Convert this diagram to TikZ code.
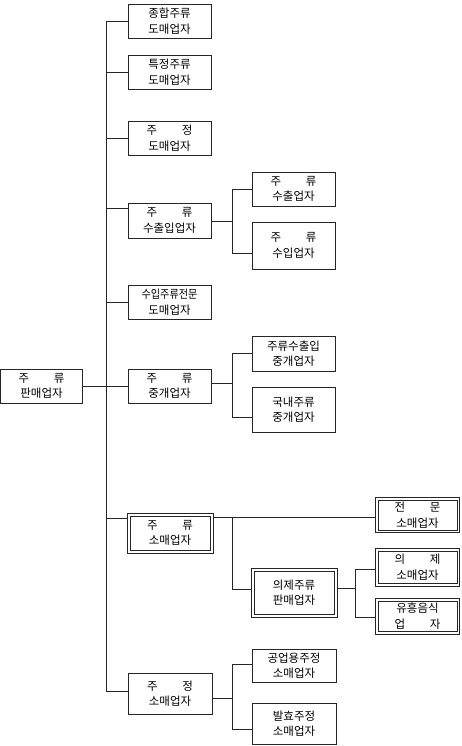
\documentclass[tikz,border=0pt]{standalone}
\usepackage{fontspec}
\setmainfont{Noto Sans CJK KR}
\usepackage{graphicx}
\usetikzlibrary{backgrounds}
\newcommand{\sptwo}[2]{\makebox[4em][s]{#1\hfill#2}}
\newcommand{\innerframe}[1]{\draw[black!85, line width=0.6pt] ([shift={(3.2,3.2)}]#1.north west) rectangle ([shift={(-3.2,-3.2)}]#1.south east);}
\begin{document}
\begin{tikzpicture}[x=1pt,y=-1pt,
  box/.style={draw=black!85, line width=0.7pt, fill=white, inner sep=0pt, align=center,
    font=\fontsize{11.5}{15.5}\selectfont},
  dbl/.style={box, line width=0.7pt},
  thickbox/.style={box, line width=1.8pt},
  conn/.style={draw=black!85, line width=0.7pt}]
\useasboundingbox (0,0) rectangle (461,746);
% root
\node[box, minimum width=82pt, minimum height=34pt] (root) at (41.5,386) {\sptwo{주}{류}\\판매업자};
% level 1
\node[box, minimum width=83pt, minimum height=34pt] (b1) at (169.5,21) {종합주류\\도매업자};
\node[box, minimum width=83pt, minimum height=34pt] (b2) at (169.5,72) {특정주류\\도매업자};
\node[box, minimum width=83pt, minimum height=34pt] (b3) at (169.5,138) {\sptwo{주}{정}\\도매업자};
\node[box, minimum width=83pt, minimum height=35pt] (b4) at (169.5,220.5) {\sptwo{주}{류}\\수출입업자};
\node[box, minimum width=83pt, minimum height=34pt] (b5) at (169.5,302) {\scalebox{0.88}[1]{수입주류전문}\\도매업자};
\node[box, minimum width=83pt, minimum height=34pt] (b6) at (169.5,386) {\sptwo{주}{류}\\중개업자};
\node[dbl, minimum width=86pt, minimum height=40pt] (b7) at (170,533) {\sptwo{주}{류}\\소매업자};
\innerframe{b7}
\node[box, minimum width=84pt, minimum height=41pt] (b8) at (170,693.5) {\sptwo{주}{정}\\소매업자};
% level 2
\node[box, minimum width=83pt, minimum height=34pt] (c1) at (293.5,189) {\sptwo{주}{류}\\수출업자};
\node[box, minimum width=83pt, minimum height=47pt] (c2) at (293.5,245.5) {\sptwo{주}{류}\\수입업자};
\node[box, minimum width=83pt, minimum height=35pt] (c3) at (293.5,353.5) {주류수출입\\중개업자};
\node[box, minimum width=83pt, minimum height=45pt] (c4) at (293.5,409.5) {국내주류\\중개업자};
\node[dbl, minimum width=86pt, minimum height=49pt] (c5) at (294,592.5) {의제주류\\판매업자};
\innerframe{c5}
\node[box, minimum width=84pt, minimum height=33pt] (c6) at (294,665.5) {공업용주정\\소매업자};
\node[box, minimum width=84pt, minimum height=41pt] (c7) at (294,723.5) {발효주정\\소매업자};
% level 3
\node[thickbox, minimum width=84pt, minimum height=35pt] (d1) at (417.5,515) {\sptwo{전}{문}\\소매업자};
\innerframe{d1}
\node[dbl, minimum width=84.5pt, minimum height=38pt] (d2) at (417.5,567) {\sptwo{의}{제}\\소매업자};
\innerframe{d2}
\node[dbl, minimum width=84.5pt, minimum height=36pt] (d3) at (417.5,616) {유흥음식\\\sptwo{업}{자}};
\innerframe{d3}
% connectors
\begin{scope}[on background layer]
  \coordinate (t1) at (106,21);
  \coordinate (t2) at (106,72);
  \coordinate (t3) at (106,138);
  \coordinate (t4) at (106,208);
  \coordinate (t5) at (106,302);
  \coordinate (t7) at (106,518);
  \coordinate (t8) at (106,691);
  \draw[conn] (t1) -- (t8);
  \draw[conn] (root) -- (b6);
  \draw[conn] (t1) -- (t1 -| b1.west);
  \draw[conn] (t2) -- (t2 -| b2.west);
  \draw[conn] (t3) -- (t3 -| b3.west);
  \draw[conn] (t4) -- (t4 -| b4.west);
  \draw[conn] (t5) -- (t5 -| b5.west);
  \draw[conn] (t7) -- (t7 -| b7.west);
  \draw[conn] (t8) -- (t8 -| b8.west);
  % export/import
  \coordinate (s1) at (232,221);
  \coordinate (s1a) at (232,189);
  \coordinate (s1b) at (232,253);
  \draw[conn] (s1 -| b4.east) -- (s1);
  \draw[conn] (s1a -| c1.west) -- (s1a) -- (s1b) -- (s1b -| c2.west);
  % brokers
  \coordinate (s2) at (232,383);
  \coordinate (s2a) at (232,353);
  \coordinate (s2b) at (232,417);
  \draw[conn] (s2 -| b6.east) -- (s2);
  \draw[conn] (s2a -| c3.west) -- (s2a) -- (s2b) -- (s2b -| c4.west);
  % retail
  \coordinate (s3) at (232,517);
  \coordinate (s3b) at (232,589);
  \draw[conn] (s3 -| b7.east) -- (s3 -| d1.west);
  \draw[conn] (s3) -- (s3b) -- (s3b -| c5.west);
  \coordinate (s4) at (355,588);
  \coordinate (s4a) at (355,569);
  \coordinate (s4b) at (355,617);
  \draw[conn] (s4 -| c5.east) -- (s4);
  \draw[conn] (s4a -| d2.west) -- (s4a) -- (s4b) -- (s4b -| d3.west);
  % alcohol retail
  \coordinate (s5) at (232,698);
  \coordinate (s5a) at (232,664);
  \coordinate (s5b) at (232,729);
  \draw[conn] (s5 -| b8.east) -- (s5);
  \draw[conn] (s5a -| c6.west) -- (s5a) -- (s5b) -- (s5b -| c7.west);
\end{scope}
\end{tikzpicture}
\end{document}
